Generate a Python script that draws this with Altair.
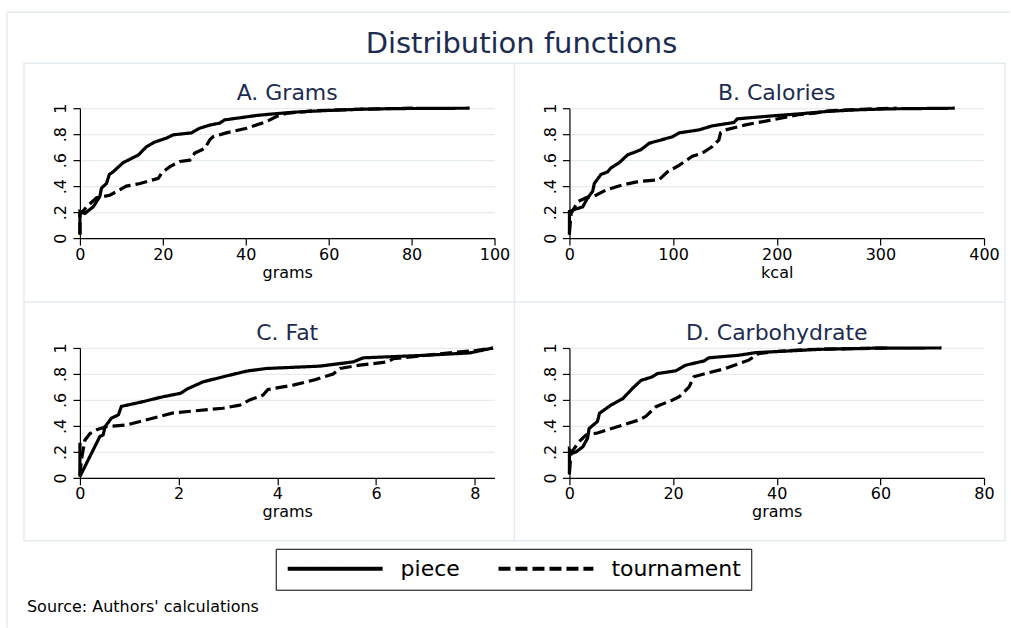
import altair as alt
import pandas as pd

FONT = "DejaVu Sans"
NAVY = "#1c2b50"
FRAME = "#e3ebef"

series_names = ["piece", "tournament"]

# ---- Panel A: Grams ----
a_piece_x = [0, 0, 1.2, 3.2, 4.8, 5.2, 6.4, 7.1, 8.0, 10.4, 14.1, 16.1, 18.1, 20.9, 22.5, 26.9, 28.9, 31.3, 33.7, 34.9, 42.6, 45.8, 51.4, 59.4, 67.5, 75.5, 94]
a_piece_y = [0.026, 0.205, 0.19, 0.24, 0.32, 0.385, 0.42, 0.49, 0.51, 0.58, 0.64, 0.705, 0.74, 0.77, 0.795, 0.81, 0.846, 0.87, 0.885, 0.91, 0.944, 0.954, 0.969, 0.982, 0.992, 0.997, 1.0]
a_tour_x = [0, 0, 1.6, 4.0, 7.2, 11.2, 14.5, 18.9, 19.7, 21.7, 24.1, 26.5, 27.7, 30.1, 31.3, 32.1, 35.3, 40.2, 45.0, 47.4, 49.8, 56.2, 67.5, 80.3]
a_tour_y = [0.03, 0.18, 0.24, 0.31, 0.33, 0.40, 0.42, 0.46, 0.50, 0.55, 0.59, 0.60, 0.654, 0.69, 0.756, 0.78, 0.81, 0.846, 0.897, 0.936, 0.96, 0.98, 0.992, 1.0]

# ---- Panel B: Calories ----
b_piece_x = [0, 0, 4.8, 12.8, 17.6, 22.4, 24, 30.4, 36.9, 40, 48, 56, 68.9, 76.9, 99.4, 105.8, 125, 137.8, 158.7, 161.9, 195.5, 221, 246.8, 275.6, 307.7, 371.8]
b_piece_y = [0.026, 0.205, 0.22, 0.24, 0.31, 0.36, 0.42, 0.49, 0.51, 0.54, 0.58, 0.64, 0.68, 0.73, 0.78, 0.81, 0.833, 0.864, 0.89, 0.918, 0.941, 0.956, 0.974, 0.987, 0.995, 1.0]
b_tour_x = [0, 1.6, 8, 16, 25.6, 35.3, 51.3, 67.3, 86.5, 94.6, 105.8, 118.6, 128.2, 137.8, 144.2, 145.8, 150.6, 169.9, 195.5, 221, 237, 250, 282, 315.7]
b_tour_y = [0.04, 0.19, 0.28, 0.31, 0.33, 0.37, 0.41, 0.436, 0.449, 0.51, 0.56, 0.63, 0.654, 0.705, 0.756, 0.81, 0.833, 0.872, 0.91, 0.95, 0.962, 0.98, 0.992, 1.0]

# ---- Panel C: Fat ----
c_piece_x = [0, 0, 0.405, 0.47, 0.51, 0.64, 0.78, 0.84, 1.28, 1.69, 2.03, 2.2, 2.5, 3.04, 3.38, 3.78, 4.86, 5.54, 5.74, 7.02, 7.9, 8.37]
c_piece_y = [0.27, 0.01, 0.319, 0.33, 0.395, 0.46, 0.485, 0.55, 0.587, 0.625, 0.65, 0.689, 0.74, 0.791, 0.822, 0.842, 0.86, 0.893, 0.924, 0.944, 0.962, 1.0]
c_tour_x = [0, 0.03, 0.1, 0.2, 0.34, 0.54, 0.95, 1.89, 2.9, 3.24, 3.44, 3.71, 3.81, 4.32, 4.73, 5.13, 5.27, 5.67, 6.24, 6.35, 7.02, 7.7, 8.04, 8.37]
c_tour_y = [0.02, 0.14, 0.29, 0.34, 0.37, 0.395, 0.408, 0.5, 0.536, 0.56, 0.6, 0.637, 0.68, 0.714, 0.752, 0.8, 0.842, 0.868, 0.893, 0.918, 0.944, 0.97, 0.982, 1.0]

# ---- Panel D: Carbohydrate ----
d_piece_x = [0, 0, 0.6, 1.3, 2.6, 3.5, 3.8, 5.4, 5.8, 8, 10.3, 12.2, 13.8, 16, 17, 20.5, 22.4, 25.96, 26.9, 32.7, 35.9, 42.3, 48.7, 58.3, 71.8]
d_piece_y = [0.025, 0.216, 0.19, 0.2, 0.24, 0.305, 0.38, 0.434, 0.497, 0.56, 0.61, 0.69, 0.75, 0.778, 0.803, 0.824, 0.867, 0.9, 0.924, 0.944, 0.964, 0.977, 0.99, 0.998, 1.0]
d_tour_x = [0, 0.3, 1.9, 3.2, 5.4, 13.5, 14.7, 16.7, 19.9, 21.2, 23.1, 24, 26.3, 30.1, 34.6, 36.5, 39.1, 45.5, 61.5]
d_tour_y = [0.04, 0.19, 0.28, 0.33, 0.345, 0.447, 0.472, 0.548, 0.6, 0.625, 0.7, 0.778, 0.803, 0.842, 0.906, 0.957, 0.97, 0.988, 1.0]

panel_titles = ["A. Grams", "B. Calories", "C. Fat", "D. Carbohydrate"]
x_titles = ["grams", "kcal", "grams", "grams"]
x_domains = [[0, 100], [0, 400], [0, 8.4], [0, 80]]
x_ticks = [[0, 20, 40, 60, 80, 100], [0, 100, 200, 300, 400], [0, 2, 4, 6, 8], [0, 20, 40, 60, 80]]
y_ticks = [0, 0.2, 0.4, 0.6, 0.8, 1]


def make_df(px, py, tx, ty):
    rows = []
    for i, (x, y) in enumerate(zip(px, py)):
        rows.append({"series": "piece", "order": i, "x": x, "y": y})
    for i, (x, y) in enumerate(zip(tx, ty)):
        rows.append({"series": "tournament", "order": i, "x": x, "y": y})
    return pd.DataFrame(rows)


dfs = [
    make_df(a_piece_x, a_piece_y, a_tour_x, a_tour_y),
    make_df(b_piece_x, b_piece_y, b_tour_x, b_tour_y),
    make_df(c_piece_x, c_piece_y, c_tour_x, c_tour_y),
    make_df(d_piece_x, d_piece_y, d_tour_x, d_tour_y),
]

one = pd.DataFrame({"k": [0]})


def panel(i):
    legend = None
    if i == 0:
        legend = alt.Legend(
            orient="none", legendX=196, legendY=441, direction="horizontal",
            title=None, symbolType="stroke", symbolSize=9025, symbolStrokeWidth=4,
            symbolStrokeColor="black", labelFontSize=22, labelFont=FONT,
            labelColor="black", labelOffset=16, columnPadding=36, padding=10,
            strokeColor="black", fillColor="white", clipHeight=20,
        )
    lines = alt.Chart(dfs[i]).mark_line(color="black", strokeWidth=3.2).encode(
        x=alt.X("x:Q", scale=alt.Scale(domain=x_domains[i], nice=False, zero=False),
                axis=alt.Axis(values=x_ticks[i], title=x_titles[i], grid=False,
                              labelPadding=1, titlePadding=2)),
        y=alt.Y("y:Q", scale=alt.Scale(domain=[0, 1], nice=False),
                axis=alt.Axis(values=y_ticks, title=None, grid=True, labelAngle=270,
                              labelAlign="center", labelBaseline="bottom", labelPadding=4,
                              labelExpr="replace(format(datum.value, '.1~f'), '0.', '.')")),
        strokeDash=alt.StrokeDash("series:N",
                                  scale=alt.Scale(domain=series_names, range=[[1, 0], [12, 5]]),
                                  legend=legend),
        order="order:Q",
    )
    ptitle = alt.Chart(one).mark_text(
        text=panel_titles[i], font=FONT, fontSize=22, color=NAVY,
        align="center", baseline="alphabetic").encode(x=alt.value(207.5), y=alt.value(-8))
    layers = []
    if i == 0:
        canvas = alt.Chart(one).mark_rect(fillOpacity=0, strokeWidth=0).encode(
            x=alt.value(-80), x2=alt.value(931), y=alt.value(-108), y2=alt.value(520))
        frame_box = alt.Chart(one).mark_rect(fillOpacity=0, stroke=FRAME, strokeWidth=1.5).encode(
            x=alt.value(-56), x2=alt.value(926), y=alt.value(-45), y2=alt.value(433))
        frame_v = alt.Chart(one).mark_rule(color=FRAME, strokeWidth=1.5).encode(
            x=alt.value(435), y=alt.value(-45), y2=alt.value(433))
        frame_h = alt.Chart(one).mark_rule(color=FRAME, strokeWidth=1.5).encode(
            x=alt.value(-56), x2=alt.value(926), y=alt.value(194))
        outer_l = alt.Chart(one).mark_rule(color=FRAME, strokeWidth=1.5).encode(
            x=alt.value(-73), y=alt.value(-96), y2=alt.value(520))
        outer_t = alt.Chart(one).mark_rule(color=FRAME, strokeWidth=1.5).encode(
            x=alt.value(-73), x2=alt.value(931), y=alt.value(-96))
        main_title = alt.Chart(one).mark_text(
            text="Distribution functions", font=FONT, fontSize=29, color=NAVY,
            align="center", baseline="alphabetic").encode(x=alt.value(442), y=alt.value(-55))
        source = alt.Chart(one).mark_text(
            text="Source: Authors' calculations", font=FONT, fontSize=16, color="black",
            align="left", baseline="alphabetic").encode(x=alt.value(-53), y=alt.value(504))
        layers = [canvas, outer_l, outer_t, frame_box, frame_v, frame_h, main_title, source]
    layers += [ptitle, lines]
    return alt.layer(*layers).properties(width=415, height=130)


chart = alt.concat(
    panel(0), panel(1), panel(2), panel(3),
    columns=2,
    spacing={"row": 110, "column": 75},
    bounds="flush",
    padding=0,
).configure_view(strokeWidth=0).configure_axis(
    labelFont=FONT, labelFontSize=16, labelColor="black",
    titleFont=FONT, titleFontSize=16, titleFontWeight="normal", titleColor="black",
    domainColor="black", domainWidth=1.2, tickColor="black", tickSize=7, tickWidth=1.2,
    labelFlush=False, labelOverlap=False, gridColor="#e4ecf0", gridWidth=1.3,
)

chart.save("out.html", embed_options={"renderer": "svg", "actions": False})
